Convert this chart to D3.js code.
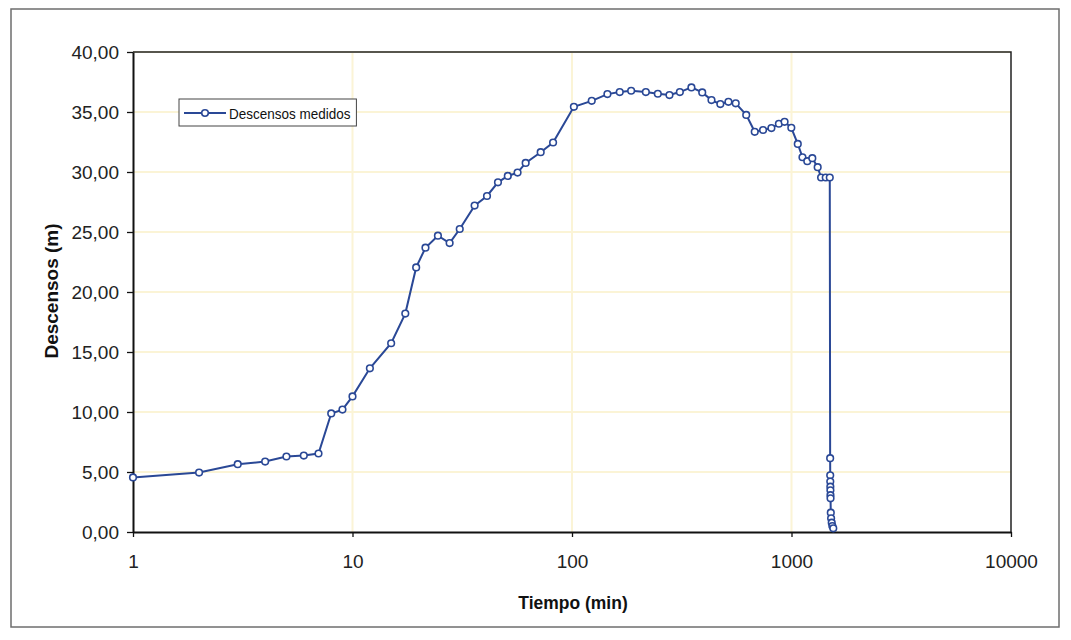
<!DOCTYPE html>
<html><head><meta charset="utf-8">
<script src="https://cdn.jsdelivr.net/npm/d3@7"></script>
<style>
html,body{margin:0;padding:0;background:#fff;}
svg{display:block;}
text{font-family:"Liberation Sans",Arial,sans-serif;}
</style></head>
<body>
<svg id="chart" width="1071" height="640"></svg>
<script>
const times = [1,2,3,4,5,6,7,8,9,10,12,15,17.4,19.5,21.5,24.5,27.7,30.8,36,41,46,51,56.5,61.5,72,82,102,123,145,165,186,217,246,278,310,350,392,432,474,516,557,622,680,742,810,876,930,998,1068,1122,1180,1244,1316,1364,1432,1494,1500,1501,1502,1503,1504,1505,1506,1510,1515,1525,1535,1550];
const descensos = [4.55,4.95,5.65,5.87,6.29,6.37,6.54,9.88,10.2,11.3,13.64,15.73,18.2,22.05,23.69,24.69,24.08,25.25,27.2,28.0,29.14,29.67,29.95,30.76,31.65,32.46,35.43,35.93,36.49,36.66,36.77,36.66,36.52,36.41,36.66,37.05,36.63,35.99,35.66,35.85,35.72,34.76,33.35,33.5,33.66,34.02,34.18,33.68,32.34,31.23,30.9,31.15,30.4,29.54,29.54,29.54,6.15,4.73,4.2,3.78,3.48,3.07,2.81,1.61,1.14,0.78,0.5,0.31];
const xTicks = [1,10,100,1000,10000];
const yTicks = [0,5,10,15,20,25,30,35,40];
const seriesName = "Descensos medidos";
const xTitle = "Tiempo (min)";
const yTitle = "Descensos (m)";

(function(){
const data = times.map((t,i)=>({t, v: descensos[i]}));
const svg = d3.select("#chart");
const pL = 133, pR = 1011, pT = 52, pB = 532;
const x = d3.scaleLog().domain([1,10000]).range([pL,pR]);
const y = d3.scaleLinear().domain([0,40]).range([pB,pT]);
const color = "#2a4896";
const loc = d3.formatLocale({decimal:",", thousands:".", grouping:[3], currency:["",""]});
const fmt = loc.format(".2f");

// outer frame
svg.append("rect").attr("x",11).attr("y",9).attr("width",1048).attr("height",618)
  .attr("fill","#fff").attr("stroke","#6e6e6e").attr("stroke-width",1.5);

// gridlines
const grid = svg.append("g");
grid.selectAll("line.h").data(yTicks.filter(d=>d>0)).join("line")
  .attr("x1",pL).attr("x2",pR).attr("y1",d=>y(d)).attr("y2",d=>y(d))
  .attr("stroke","#fbf4d6").attr("stroke-width",2);
grid.selectAll("line.v").data(xTicks.slice(1,-1)).join("line")
  .attr("y1",pT).attr("y2",pB).attr("x1",d=>x(d)).attr("x2",d=>x(d))
  .attr("stroke","#fbf4d6").attr("stroke-width",2);

// plot border top/right
svg.append("path").attr("d",`M${pL},${pT}H${pR}V${pB}`)
  .attr("fill","none").attr("stroke","#222").attr("stroke-width",1.5);

// axes
const xAxis = svg.append("g").attr("transform",`translate(0,${pB})`)
  .call(d3.axisBottom(x).tickValues(xTicks).tickFormat(d3.format("d")).tickSize(5).tickSizeOuter(0).tickPadding(18));
const yAxis = svg.append("g").attr("transform",`translate(${pL},0)`)
  .call(d3.axisLeft(y).tickValues(yTicks).tickFormat(fmt).tickSize(6).tickSizeOuter(0).tickPadding(8));
[xAxis,yAxis].forEach(a=>{
  a.select(".domain").attr("stroke","#111").attr("stroke-width",2);
  a.selectAll(".tick line").attr("stroke","#111").attr("stroke-width",1.3);
  a.selectAll(".tick text").attr("fill","#222").style("font-size","19px");
});

// titles (slightly condensed like Arial Narrow)
svg.append("text").attr("transform","translate(573,609) scale(0.92,1)").attr("text-anchor","middle")
  .style("font-size","19px").style("font-weight","bold").attr("fill","#111").text(xTitle);
svg.append("text").attr("transform","translate(58,291) rotate(-90)").attr("text-anchor","middle")
  .style("font-size","19px").style("font-weight","bold").attr("fill","#111").text(yTitle);

// series
const line = d3.line().x(d=>x(d.t)).y(d=>y(d.v));
svg.append("path").datum(data).attr("d",line).attr("fill","none")
  .attr("stroke",color).attr("stroke-width",2);
svg.selectAll("circle.pt").data(data).join("circle").attr("class","pt")
  .attr("cx",d=>x(d.t)).attr("cy",d=>y(d.v)).attr("r",3.3)
  .attr("fill","#fff").attr("stroke",color).attr("stroke-width",1.6);

// legend
const lg = svg.append("g");
const lbox = lg.append("rect").attr("x",179).attr("y",99).attr("height",27)
  .attr("fill","#fff").attr("stroke","#444").attr("stroke-width",1);
lg.append("line").attr("x1",184).attr("x2",226).attr("y1",113).attr("y2",113)
  .attr("stroke",color).attr("stroke-width",2);
lg.append("circle").attr("cx",205).attr("cy",113).attr("r",3.3)
  .attr("fill","#fff").attr("stroke",color).attr("stroke-width",1.6);
const sx = 0.9;
const lt = lg.append("text").attr("transform",`translate(229,118.5) scale(${sx},1)`).style("font-size","15px")
  .attr("fill","#111").text(seriesName);
const bb = lt.node().getBBox();
lbox.attr("width", 229 + bb.width*sx + 6 - 179);
})();
</script>
</body></html>
